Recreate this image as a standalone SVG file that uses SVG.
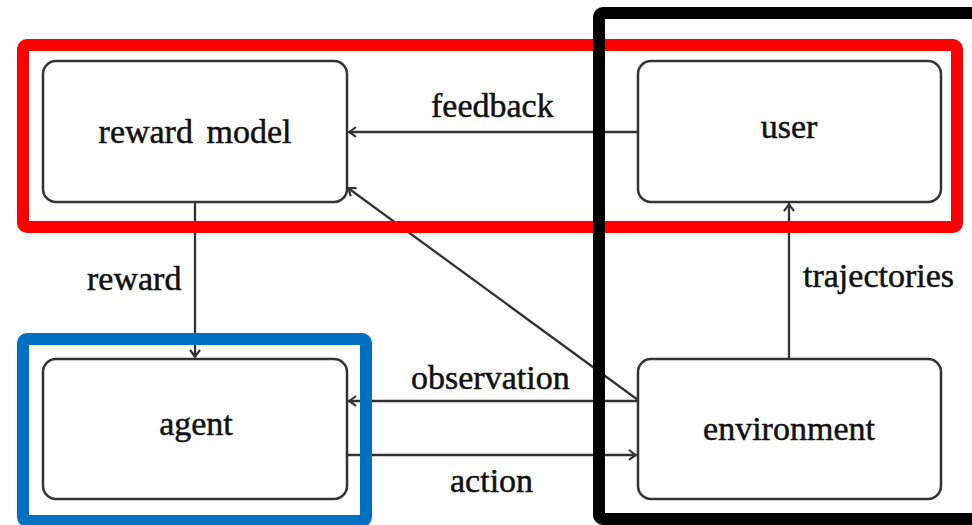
<svg xmlns="http://www.w3.org/2000/svg" width="972" height="525" viewBox="0 0 972 525">
<style>
.box{fill:#fff;stroke:#333;stroke-width:2.5}
.t{font-family:"Liberation Serif","Times New Roman",serif;font-size:34px;fill:#111;stroke:#111;stroke-width:0.5}
.c{text-anchor:middle}
.ln{stroke:#333;stroke-width:2.3;fill:none}
</style>
<defs>
<marker id="ar" markerUnits="userSpaceOnUse" markerWidth="16" markerHeight="16" viewBox="-10 -8 12 16" refX="0" refY="0" orient="auto">
<path d="M-7,-5 Q-2,-1 0,0 Q-2,1 -7,5" fill="none" stroke="#333" stroke-width="2.2"/>
</marker>
</defs>
<rect width="972" height="525" fill="#fff"/>
<g id="connectors">
<line class="ln" x1="638" y1="132" x2="349" y2="132" marker-end="url(#ar)"/>
<line class="ln" x1="195" y1="202" x2="195" y2="357" marker-end="url(#ar)"/>
<line class="ln" x1="638" y1="400" x2="348" y2="188" marker-end="url(#ar)"/>
<line class="ln" x1="638" y1="401" x2="349" y2="401" marker-end="url(#ar)"/>
<line class="ln" x1="347" y1="455" x2="636" y2="455" marker-end="url(#ar)"/>
<line class="ln" x1="789" y1="359" x2="789" y2="204" marker-end="url(#ar)"/>
<text class="t" x="431" y="117">feedback</text>
<text class="t" x="87" y="290">reward</text>
<text class="t" x="411" y="389">observation</text>
<text class="t" x="450" y="492">action</text>
<text class="t" x="803" y="287">trajectories</text>
</g>
<g id="reward-model">
<rect class="box" x="43" y="61" width="304" height="141" rx="13"/>
<text class="t c" x="195" y="143" word-spacing="5">reward model</text>
</g>
<g id="user">
<rect class="box" x="638" y="61" width="303" height="141" rx="13"/>
<text class="t c" x="789" y="138">user</text>
</g>
<g id="agent">
<rect class="box" x="43" y="359" width="304" height="140" rx="13"/>
<text class="t c" x="196" y="435">agent</text>
</g>
<g id="environment">
<rect class="box" x="638" y="359" width="303" height="140" rx="13"/>
<text class="t c" x="789" y="440">environment</text>
</g>
<g id="groups" fill="none" stroke-width="12">
<rect x="23" y="45" width="934" height="182" rx="4" stroke="#ff0000"/>
<rect x="23" y="339" width="343" height="182" rx="4" stroke="#0070c0"/>
<rect x="599" y="13" width="400" height="506" rx="4" stroke="#000"/>
</g>
</svg>
